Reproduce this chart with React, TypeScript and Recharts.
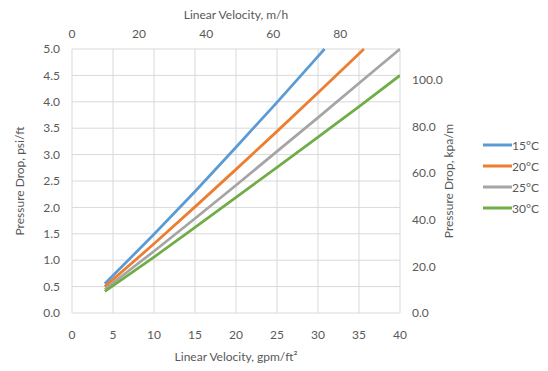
import React from "react";
import { LineChart, Line, XAxis, YAxis, CartesianGrid, Legend } from "recharts";

// pressure drop (psi/ft) vs linear velocity (gpm/ft2)
const velocity15 = [4, 10, 15, 20, 25, 30, 30.8];
const drop15 = [0.555, 1.49, 2.3, 3.14, 3.99, 4.86, 5.0];

const velocity20 = [4, 10, 15, 20, 25, 30, 35, 35.6];
const drop20 = [0.5, 1.31, 2.01, 2.72, 3.44, 4.17, 4.91, 5.0];

const velocity25 = [4, 10, 15, 20, 25, 30, 35, 40];
const drop25 = [0.45, 1.17, 1.79, 2.42, 3.06, 3.7, 4.35, 5.0];

const velocity30 = [4, 10, 15, 20, 25, 30, 35, 40];
const drop30 = [0.41, 1.06, 1.62, 2.19, 2.76, 3.33, 3.91, 4.5];

const gpmTicks = [0, 5, 10, 15, 20, 25, 30, 35, 40];
const psiTicks = [0, 0.5, 1, 1.5, 2, 2.5, 3, 3.5, 4, 4.5, 5];
const mhTicks = [0, 20, 40, 60, 80];
const kpaTicks = [0, 20, 40, 60, 80, 100];

const series = [
  { name: "15°C", color: "#5B9BD5", v: velocity15, p: drop15 },
  { name: "20°C", color: "#ED7D31", v: velocity20, p: drop20 },
  { name: "25°C", color: "#A5A5A5", v: velocity25, p: drop25 },
  { name: "30°C", color: "#70AD47", v: velocity30, p: drop30 },
];

const font = "Lato, 'Liberation Sans', sans-serif";
const textColor = "#595959";
const tick = { fontSize: 12, fill: textColor, fontFamily: font };

// secondary (m/h) axis needs rows of its own to place its ticks
const topAxisRows = mhTicks.map((mh) => ({ mh }));

const renderLegend = () => (
  <div style={{ fontFamily: font, fontSize: 12, color: textColor }}>
    {series.map((s) => (
      <div key={s.name} style={{ display: "flex", alignItems: "center", height: 20.9 }}>
        <svg width={29} height={4}>
          <line x1={0} y1={2} x2={29} y2={2} stroke={s.color} strokeWidth={3} />
        </svg>
        <span>{s.name}</span>
      </div>
    ))}
  </div>
);

export default function App() {
  return (
    <div style={{ position: "absolute", left: 0, top: 0 }}>
      <LineChart width={548} height={371} data={topAxisRows} margin={{ top: 0, right: 66, bottom: 0, left: 0 }}>
        <CartesianGrid xAxisId="bottom" yAxisId="left" stroke="#d9d9d9" />
        <XAxis
          xAxisId="bottom"
          dataKey="v"
          type="number"
          domain={[0, 40]}
          allowDataOverflow
          ticks={gpmTicks}
          height={58}
          axisLine={false}
          tickLine={false}
          tickSize={0}
          tickMargin={17}
          tick={tick}
          label={{ value: "Linear Velocity, gpm/ft²", position: "insideBottom", offset: 10, style: { ...tick, fill: textColor } }}
        />
        <XAxis
          xAxisId="top"
          orientation="top"
          dataKey="mh"
          type="number"
          domain={[0, 97.8]}
          allowDataOverflow
          ticks={mhTicks}
          height={49}
          axisLine={false}
          tickLine={false}
          tickSize={0}
          tickMargin={11}
          tick={tick}
          label={{ value: "Linear Velocity, m/h", position: "insideTop", offset: 10, style: { ...tick, fill: textColor } }}
        />
        <YAxis
          yAxisId="left"
          type="number"
          domain={[0, 5]}
          ticks={psiTicks}
          width={72}
          axisLine={false}
          tickLine={false}
          tickSize={0}
          tickMargin={12}
          tick={tick}
          tickFormatter={(t: number) => t.toFixed(1)}
          label={{ value: "Pressure Drop, psi/ft", angle: -90, position: "insideLeft", offset: 20, style: { ...tick, fill: textColor, textAnchor: "middle" } }}
        />
        <YAxis
          yAxisId="right"
          orientation="right"
          type="number"
          domain={[0, 113.1]}
          allowDataOverflow
          ticks={kpaTicks}
          width={82}
          axisLine={false}
          tickLine={false}
          tickSize={0}
          tickMargin={12}
          tick={tick}
          tickFormatter={(t: number) => t.toFixed(1)}
          label={{ value: "Pressure Drop, kpa/m", angle: -90, position: "insideRight", offset: 33, style: { ...tick, fill: textColor, textAnchor: "middle" } }}
        />
        {series.map((s) => (
          <Line
            key={s.name}
            xAxisId="bottom"
            yAxisId="left"
            name={s.name}
            data={s.v.map((v, i) => ({ v, p: s.p[i] }))}
            dataKey="p"
            stroke={s.color}
            strokeWidth={2.75}
            dot={false}
            activeDot={false}
            isAnimationActive={false}
          />
        ))}
        <Legend
          layout="vertical"
          align="center"
          verticalAlign="middle"
          content={renderLegend}
          wrapperStyle={{ left: 483, top: 135, width: 64 }}
        />
      </LineChart>
    </div>
  );
}
